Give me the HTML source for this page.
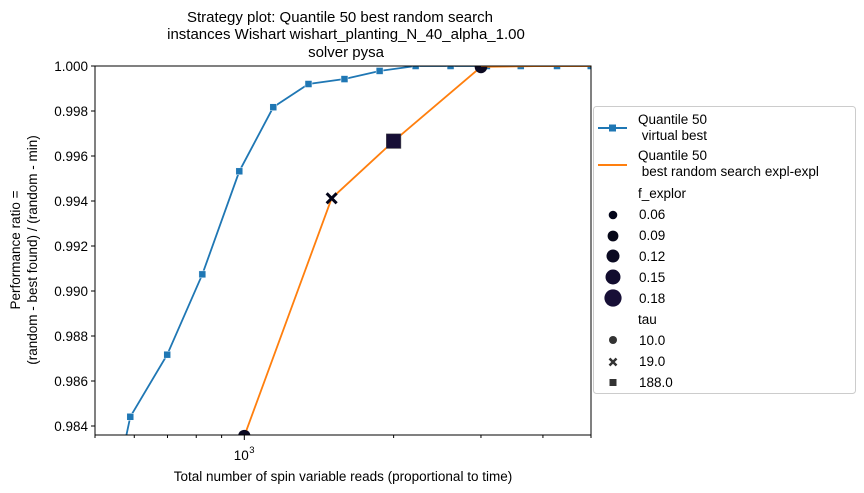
<!DOCTYPE html>
<html><head><meta charset="utf-8"><style>
html,body{margin:0;background:#fff;overflow:hidden;width:864px;height:493px;}
svg{display:block;}
svg text{font-family:"Liberation Sans","DejaVu Sans",sans-serif;fill:#000;white-space:pre;}
</style></head><body>
<svg id="chart" width="864" height="493" viewBox="0 0 864 493" xmlns="http://www.w3.org/2000/svg">
<g>
<text x="340" y="22" font-size="15" text-anchor="middle">Strategy plot: Quantile 50 best random search</text>
<text x="346" y="39" font-size="15" text-anchor="middle">instances Wishart wishart_planting_N_40_alpha_1.00</text>
<text x="346" y="57" font-size="15" text-anchor="middle">solver pysa</text>
</g>
<defs><clipPath id="pc"><rect x="95" y="66" width="496" height="369"/></clipPath></defs>
<g id="axes"></g>
<g id="series" clip-path="url(#pc)"></g>
<rect x="95" y="66" width="496" height="369" fill="none" stroke="#000" stroke-width="1"/>
<text x="343" y="481" font-size="13.5" text-anchor="middle">Total number of spin variable reads (proportional to time)</text>
<g transform="translate(20,250) rotate(-90)">
<text x="0" y="0" font-size="13.5" text-anchor="middle">Performance ratio =</text>
<text x="0" y="17" font-size="13.5" text-anchor="middle">(random - best found) / (random - min)</text>
</g>
<g>
<rect x="593.5" y="106.5" width="262" height="287" rx="3" fill="#fff" stroke="#ccc"/>
<g>
<line x1="598" y1="128" x2="627" y2="128" stroke="#1f77b4" stroke-width="2"/>
<rect x="609" y="124.5" width="7" height="7" fill="#1f77b4"/>
<text x="638" y="124" font-size="13.5">Quantile 50</text><text x="638" y="140" font-size="13.5" xml:space="preserve"> virtual best</text></g>
<g>
<line x1="598" y1="165" x2="627" y2="165" stroke="#ff7f0e" stroke-width="2"/>
<text x="638" y="160" font-size="13.5">Quantile 50</text><text x="638" y="176" font-size="13.5" xml:space="preserve"> best random search expl-expl</text></g>
<text x="638" y="198" font-size="13.5">f_explor</text>
<circle cx="613" cy="215" r="4.3" fill="#03051a"/><text x="639" y="219" font-size="13.5">0.06</text>
<circle cx="613" cy="236" r="5.4" fill="#060718"/><text x="639" y="240" font-size="13.5">0.09</text>
<circle cx="613" cy="256" r="6.5" fill="#0b0a22"/><text x="639" y="261" font-size="13.5">0.12</text>
<circle cx="613" cy="277" r="7.5" fill="#110c2e"/><text x="639" y="282" font-size="13.5">0.15</text>
<circle cx="613" cy="298" r="8.6" fill="#170f36"/><text x="639" y="303" font-size="13.5">0.18</text>
<text x="638" y="324" font-size="13.5">tau</text>
<circle cx="613" cy="340" r="4" fill="#333"/><text x="639" y="345" font-size="13.5">10.0</text>
<path d="M609.5 358.5L616.5 365.5M616.5 358.5L609.5 365.5" stroke="#333" stroke-width="2.5"/><text x="639" y="366" font-size="13.5">19.0</text>
<rect x="609.5" y="379" width="7" height="7" fill="#333"/><text x="639" y="387" font-size="13.5">188.0</text>
</g>
</svg>
<script>
const blueX=[500,589,699,823,977,1144,1347,1592,1874,2215,2605,3084,3609,4270,4994];
const blueY=[0.9770,0.98441,0.98717,0.99074,0.99532,0.99817,0.9992,0.99942,0.99978,1.0,1.0,1.0,1.0,1.0,1.0];
const orangeX=[1000,1500,2000,3000,4000,5000];
const orangeY=[0.98355,0.99412,0.99666,0.99996,1.0,1.0];
const markX=[1000,1500,2000,3000];
const markY=[0.98355,0.99412,0.99666,0.99996];
const markShape=['circle','x','square','circle'];
const markSize=[6.3,5,8.6,6.3];
const yTicks=[0.984,0.986,0.988,0.990,0.992,0.994,0.996,0.998,1.000];
const xMinor=[600,700,800,900,2000,3000,4000];
const NS='http://www.w3.org/2000/svg';
const X0=95,X1=591,Y0=435,Y1=66,xmin=500,xmax=5000,ymin=0.9836,ymax=1.0;
function sx(v){return X0+(Math.log10(v)-Math.log10(xmin))/(Math.log10(xmax)-Math.log10(xmin))*(X1-X0);}
function sy(v){return Y0-(v-ymin)/(ymax-ymin)*(Y0-Y1);}
function mk(t,a,p){const e=document.createElementNS(NS,t);for(const k in a)e.setAttribute(k,a[k]);p.appendChild(e);return e;}
const ax=document.getElementById('axes'),se=document.getElementById('series');
yTicks.forEach(v=>{const y=sy(v);
const l=mk('line',{x1:X0-4,x2:X0,y1:y,y2:y,stroke:'#000'},ax);


const t=mk('text',{x:X0-7,y:y+5,'font-size':13.5,'text-anchor':'end'},ax);t.textContent=v.toFixed(3);

});
xMinor.forEach(v=>{const x=sx(v);const l=mk('line',{x1:x,x2:x,y1:Y0,y2:Y0+3,stroke:'#000'},ax);

});
[500,5000].forEach(v=>{const x=sx(v);mk('line',{x1:x,x2:x,y1:Y0,y2:Y0+3,stroke:'#000'},ax);});
{const x=sx(1000);mk('line',{x1:x,x2:x,y1:Y0,y2:Y0+5,stroke:'#000'},ax);
const t=mk('text',{x:x-3,y:Y0+25,'font-size':13.5,'text-anchor':'middle'},ax);t.textContent='10';


const s=mk('text',{x:x+5,y:Y0+18,'font-size':9.5},ax);s.textContent='3';}
const bl=mk('polyline',{points:blueX.map((v,i)=>sx(v)+','+sy(blueY[i])).join(' '),fill:'none',stroke:'#1f77b4','stroke-width':1.8},se);


blueX.forEach((v,i)=>{const r=mk('rect',{x:sx(v)-3.5,y:sy(blueY[i])-3.5,width:7,height:7,fill:'#1f77b4',stroke:'#fff','stroke-width':0.5},se);

});
const ol=mk('polyline',{points:orangeX.map((v,i)=>sx(v)+','+sy(orangeY[i])).join(' '),fill:'none',stroke:'#ff7f0e','stroke-width':1.8},se);


markX.forEach((v,i)=>{const x=sx(v),y=sy(markY[i]),s=markSize[i];let e;
if(markShape[i]==='circle')e=mk('circle',{cx:x,cy:y,r:s,fill:'#0b0a22'},se);
else if(markShape[i]==='square')e=mk('rect',{x:x-s*0.85,y:y-s*0.85,width:s*1.7,height:s*1.7,fill:'#170f36',stroke:'#555','stroke-width':0.5},se);
else{e=mk('path',{d:`M${x-s} ${y-s}L${x+s} ${y+s}M${x+s} ${y-s}L${x-s} ${y+s}`,stroke:'#03051a','stroke-width':3},se);}

});
mk('line',{x1:sx(3000),y1:sy(1),x2:sx(5000),y2:sy(1),stroke:'#ff7f0e','stroke-width':1.8},se);
</script>
</body></html>
